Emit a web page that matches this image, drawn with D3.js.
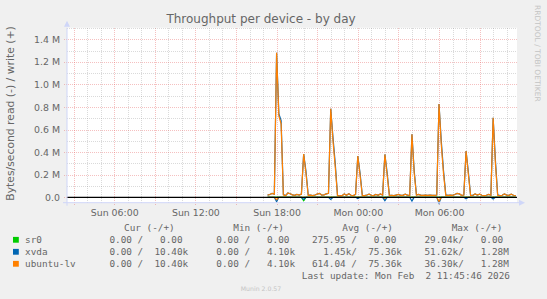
<!DOCTYPE html>
<html>
<head>
<meta charset="utf-8">
<script src="https://cdn.jsdelivr.net/npm/d3@7"></script>
<style>
body { margin: 0; background: #f0f0f0; }
svg { display: block; font-family: "DejaVu Sans", sans-serif; }
</style>
</head>
<body>
<script>
// time frame of the "by day" graph
var endTime = new Date(Date.UTC(2026, 1, 2, 11, 45, 46));
var startTime = new Date(+endTime - 33.25 * 3600e3);
var firstSample = new Date(Date.UTC(2026, 1, 1, 17, 20)); // 10 minute samples from here
var stepMinutes = 10;

// write (+) in kB/s
var ubuntuWrite = [20, 25, 35, 28, 1280, 720, 650, 20, 15, 38,
	32, 22, 18, 25, 20, 28, 384, 215, 18, 20,
	15, 20, 28, 35, 20, 22, 30, 35, 785, 500,
	270, 15, 12, 15, 30, 18, 32, 18, 15, 25,
	366, 195, 15, 15, 20, 28, 18, 15, 25, 18,
	30, 20, 380, 200, 15, 18, 15, 20, 25, 18,
	18, 28, 20, 18, 558, 215, 18, 25, 18, 18,
	20, 18, 20, 18, 18, 20, 827, 470, 210, 18,
	18, 20, 18, 25, 35, 30, 18, 20, 410, 205,
	15, 18, 30, 20, 28, 18, 15, 18, 25, 18,
	705, 300, 18, 15, 18, 30, 20, 18, 28, 18, 15];
var xvdaWrite = [20, 25, 35, 28, 1280, 740, 680, 25, 15, 38,
	32, 22, 18, 25, 20, 28, 384, 235, 22, 20,
	15, 20, 28, 35, 20, 22, 30, 35, 785, 530,
	300, 18, 12, 15, 30, 18, 32, 18, 15, 25,
	366, 215, 18, 15, 20, 28, 18, 15, 25, 18,
	30, 20, 380, 220, 18, 18, 15, 20, 25, 18,
	18, 28, 20, 18, 558, 235, 22, 25, 18, 18,
	20, 18, 20, 18, 18, 20, 827, 500, 235, 22,
	18, 20, 18, 25, 35, 30, 18, 20, 410, 225,
	18, 18, 30, 20, 28, 18, 15, 18, 25, 18,
	705, 330, 22, 15, 18, 30, 20, 18, 28, 18, 15];
var sr0Write = [];

// read (-) in kB/s, drawn below zero
var xvdaRead = [0, 0, 0, 0, 39, 0, 0, 0, 0, 0,
	0, 0, 0, 0, 0, 0, 18, 0, 0, 0,
	0, 0, 0, 0, 0, 0, 0, 0, 18, 0,
	0, 0, 0, 0, 0, 0, 0, 0, 0, 0,
	12, 0, 0, 0, 0, 0, 0, 0, 0, 0,
	0, 0, 30, 0, 0, 0, 0, 0, 0, 0,
	0, 0, 0, 0, 33, 0, 0, 0, 0, 0,
	0, 0, 0, 0, 0, 0, 51.62, 0, 0, 0,
	0, 0, 0, 0, 0, 0, 0, 0, 13, 0,
	0, 0, 0, 0, 0, 0, 0, 0, 0, 0,
	15, 0, 0, 0, 0, 0, 0, 0, 0, 0, 0];
var ubuntuRead = [0, 0, 0, 0, 20, 0, 0, 0, 0, 0,
	0, 0, 0, 0, 0, 0, 0, 0, 0, 0,
	0, 0, 0, 0, 0, 0, 0, 0, 0, 0,
	0, 0, 0, 0, 0, 0, 0, 0, 0, 0,
	0, 0, 0, 0, 0, 0, 0, 0, 0, 0,
	0, 0, 10, 0, 0, 0, 0, 0, 0, 0,
	0, 0, 0, 0, 0, 0, 0, 0, 0, 0,
	0, 0, 0, 0, 0, 0, 36.3, 0, 0, 0,
	0, 0, 0, 0, 0, 0, 0, 0, 0, 0,
	0, 0, 0, 0, 0, 0, 0, 0, 0, 0,
	0, 0, 0, 0, 0, 0, 0, 0, 0, 0, 0];
var sr0Read = [0, 0, 0, 0, 0, 0, 0, 0, 0, 0,
	0, 0, 0, 0, 0, 0, 29.04, 0, 0, 0];

// axis labels
var yTickValues = [0, 200000, 400000, 600000, 800000, 1000000, 1200000, 1400000];
var yTickLabels = ['0.0', '0.2 M', '0.4 M', '0.6 M', '0.8 M', '1.0 M', '1.2 M', '1.4 M'];
var xTickTimes = [Date.UTC(2026, 1, 1, 6), Date.UTC(2026, 1, 1, 12), Date.UTC(2026, 1, 1, 18),
	Date.UTC(2026, 1, 2, 0), Date.UTC(2026, 1, 2, 6)].map(function(t) { return new Date(t); });
var xTickLabels = ['Sun 06:00', 'Sun 12:00', 'Sun 18:00', 'Mon 00:00', 'Mon 06:00'];

// legend
var seriesNames = ['sr0', 'xvda', 'ubuntu-lv'];
var seriesColors = ['#00cc00', '#0066b3', '#ff8000'];
var curVals = [[0, 0], [0, 10400], [0, 10400]];
var minVals = [[0, 0], [0, 4100], [0, 4100]];
var avgVals = [[275.95, 0], [1450, 75360], [614.04, 75360]];
var maxVals = [[29040, 0], [51620, 1280000], [36300, 1280000]];
var statHeads = ['Cur (-/+)', 'Min (-/+)', 'Avg (-/+)', 'Max (-/+)'];

var W = 547, H = 299;
var pL = 67, pR = 517, pT = 27.7, pB = 202.7;
var axisColor = '#cfd6f8', fontColor = '#666';
var mgridColor = 'rgba(230,90,90,0.38)', gridColor = 'rgba(140,140,140,0.32)';

var svg = d3.select('body').append('svg')
	.attr('width', W)
	.attr('height', H);
svg.append('rect').attr('width', W).attr('height', H).attr('fill', '#f0f0f0');
svg.append('rect')
	.attr('x', pL).attr('y', pT)
	.attr('width', pR - pL).attr('height', pB - pT)
	.attr('fill', '#fff');

var x = d3.scaleUtc().domain([startTime, endTime]).range([pL, pR]);
var y = d3.scaleLinear().domain([-47800, 1503000]).range([pB, pT]);

// grid: minor gray, major red, dotted
var grid = svg.append('g').attr('shape-rendering', 'crispEdges').attr('stroke-dasharray', '1,1');
d3.utcHour.every(1).range(startTime, endTime).forEach(function(t) {
	var major = t.getUTCHours() % 3 === 0;
	var px = Math.round(x(t)) + 0.5;
	grid.append('line')
		.attr('x1', px).attr('x2', px)
		.attr('y1', pT).attr('y2', major ? pB + 3 : pB)
		.attr('stroke', major ? mgridColor : gridColor);
});
d3.range(0, 1500001, 100000).forEach(function(v, i) {
	var major = i % 2 === 0;
	var py = Math.round(y(v)) + 0.5;
	grid.append('line')
		.attr('x1', major ? pL - 3 : pL).attr('x2', pR)
		.attr('y1', py).attr('y2', py)
		.attr('stroke', major ? mgridColor : gridColor);
});

// series
function toPoints(arr, sign) {
	return arr.map(function(v, i) {
		return { t: new Date(+firstSample + i * stepMinutes * 60e3), v: sign * v * 1000 };
	});
}
function fill(arr) {
	var out = arr.slice();
	while (out.length < ubuntuWrite.length) out.push(0);
	return out;
}
var line = d3.line()
	.x(function(d) { return x(d.t); })
	.y(function(d) { return y(d.v); });

var lines = [
	[fill(sr0Read), -1, seriesColors[0]], [fill(sr0Write), 1, seriesColors[0]],
	[xvdaRead, -1, seriesColors[1]], [xvdaWrite, 1, seriesColors[1]],
	[ubuntuRead, -1, seriesColors[2]], [ubuntuWrite, 1, seriesColors[2]]
];
lines.forEach(function(l) {
	svg.append('path')
		.datum(toPoints(l[0], l[1]))
		.attr('d', line)
		.attr('fill', 'none')
		.attr('stroke', l[2])
		.attr('stroke-width', 1.2);
});

// zero rule
svg.append('line')
	.attr('x1', pL).attr('x2', pR)
	.attr('y1', y(0)).attr('y2', y(0))
	.attr('stroke', '#000').attr('stroke-width', 1.3);

// axes lines with arrows
svg.append('line').attr('x1', pL - 4).attr('x2', pR + 3).attr('y1', pB).attr('y2', pB)
	.attr('stroke', axisColor);
svg.append('line').attr('x1', pL).attr('x2', pL).attr('y1', pB + 3).attr('y2', pT)
	.attr('stroke', axisColor);
svg.append('path').attr('d', 'M' + (pR + 2) + ',' + (pB - 3) + 'L' + (pR + 8) + ',' + pB + 'L' + (pR + 2) + ',' + (pB + 3) + 'Z')
	.attr('fill', axisColor);
svg.append('path').attr('d', 'M' + (pL - 3) + ',' + (pT - 1) + 'L' + pL + ',' + (pT - 7) + 'L' + (pL + 3) + ',' + (pT - 1) + 'Z')
	.attr('fill', axisColor);

// tick labels
var xAxis = d3.axisBottom(x)
	.tickValues(xTickTimes)
	.tickFormat(function(d, i) { return xTickLabels[i]; })
	.tickSize(0).tickPadding(7.1);
var yAxis = d3.axisLeft(y)
	.tickValues(yTickValues)
	.tickFormat(function(d, i) { return yTickLabels[i]; })
	.tickSize(0).tickPadding(7);

svg.append('g')
	.attr('transform', 'translate(0,' + pB + ')')
	.call(xAxis)
	.call(function(g) { g.select('.domain').remove(); });
svg.append('g')
	.attr('transform', 'translate(' + pL + ',0)')
	.call(yAxis)
	.call(function(g) { g.select('.domain').remove(); });
svg.selectAll('.tick text')
	.attr('font-family', '"DejaVu Sans", sans-serif')
	.attr('font-size', 9.4)
	.attr('fill', fontColor);
svg.selectAll('.tick line').remove();

// titles
svg.append('text')
	.attr('x', 261).attr('y', 22.5)
	.attr('text-anchor', 'middle')
	.attr('font-size', 12)
	.attr('fill', fontColor)
	.text('Throughput per device - by day');
svg.append('text')
	.attr('transform', 'translate(13.5,113.5) rotate(-90)')
	.attr('text-anchor', 'middle')
	.attr('font-size', 10.8)
	.attr('fill', fontColor)
	.text('Bytes/second read (-) / write (+)');
svg.append('text')
	.attr('transform', 'translate(534.5,5) rotate(90)')
	.attr('font-size', 7.5)
	.attr('fill', '#c4c4c4')
	.text('RRDTOOL / TOBI OETIKER');

// legend
function fmt(v) {
	var u = ' ', s = v;
	if (v >= 1e6) { s = v / 1e6; u = 'M'; }
	else if (v >= 1e3) { s = v / 1e3; u = 'k'; }
	var t = s.toFixed(2);
	while (t.length < 6) t = ' ' + t;
	return t + u;
}
var mono = '"DejaVu Sans Mono", monospace', monoSize = 9.35;
var headX = [124, 233.3, 342.3, 451.7];
statHeads.forEach(function(h, i) {
	svg.append('text')
		.attr('x', headX[i]).attr('y', 230.8)
		.attr('font-family', mono).attr('font-size', monoSize)
		.attr('fill', fontColor)
		.text(h);
});
seriesNames.forEach(function(name, i) {
	var by = 242.7 + i * 12;
	svg.append('rect')
		.attr('x', 13).attr('y', by - 5.8)
		.attr('width', 5.8).attr('height', 5.8)
		.attr('fill', seriesColors[i]);
	var s = name;
	while (s.length < 13) s += ' ';
	[curVals, minVals, avgVals, maxVals].forEach(function(st, j) {
		s += (j > 0 ? '   ' : '') + fmt(st[i][0]) + '/ ' + fmt(st[i][1]);
	});
	svg.append('text')
		.attr('x', 25).attr('y', by)
		.attr('font-family', mono).attr('font-size', monoSize)
		.attr('fill', fontColor)
		.style('white-space', 'pre')
		.text(s);
});
svg.append('text')
	.attr('x', 510).attr('y', 278.7)
	.attr('text-anchor', 'end')
	.attr('font-family', mono).attr('font-size', monoSize)
	.attr('fill', fontColor)
	.style('white-space', 'pre')
	.text('Last update: Mon Feb  2 11:45:46 2026');
svg.append('text')
	.attr('x', 261).attr('y', 291)
	.attr('text-anchor', 'middle')
	.attr('font-size', 6.2)
	.attr('fill', '#c4c4c4')
	.text('Munin 2.0.57');
</script>
</body>
</html>
